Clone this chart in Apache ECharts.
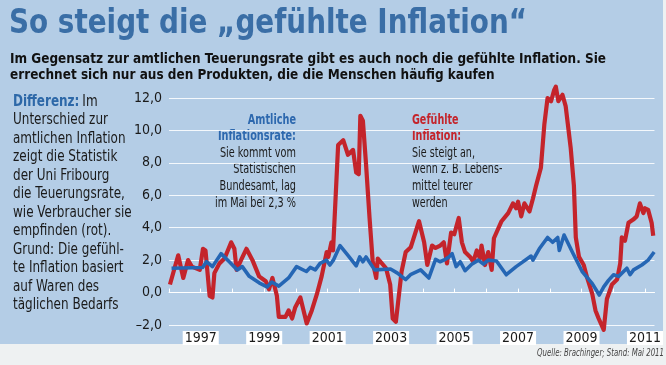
<!DOCTYPE html>
<html><head><meta charset="utf-8">
<script src="https://cdn.jsdelivr.net/npm/echarts@6/dist/echarts.min.js"></script>
<style>html,body{margin:0;padding:0;background:#b4cde6;}#c{width:666px;height:365px;}</style>
</head><body><div id="c"></div>
<script>
const FONT = '"Liberation Sans Narrow","DejaVu Sans Condensed",sans-serif';
// Gefühlte Inflation (red), decimal years
const redYears = [1996.03,1996.29,1996.45,1996.60,1996.72,1996.97,1997.07,1997.15,1997.28,1997.37,1997.43,1997.59,1997.75,1997.96,1998.06,1998.13,1998.27,1998.44,1998.63,1998.84,1999.05,1999.15,1999.26,1999.40,1999.46,1999.67,1999.77,1999.88,1999.98,2000.14,2000.24,2000.34,2000.50,2000.66,2000.81,2000.97,2001.02,2001.12,2001.17,2001.33,2001.49,2001.64,2001.80,2001.90,2001.98,2002.03,2002.11,2002.21,2002.32,2002.42,2002.53,2002.58,2002.84,2002.97,2003.05,2003.15,2003.22,2003.33,2003.46,2003.62,2003.88,2004.04,2004.14,2004.29,2004.40,2004.55,2004.66,2004.76,2004.89,2004.99,2005.13,2005.23,2005.33,2005.49,2005.59,2005.70,2005.80,2005.85,2005.96,2006.06,2006.17,2006.24,2006.48,2006.69,2006.84,2006.94,2007.00,2007.10,2007.20,2007.36,2007.47,2007.57,2007.72,2007.83,2007.93,2008.04,2008.14,2008.19,2008.27,2008.40,2008.50,2008.66,2008.76,2008.82,2008.92,2009.07,2009.18,2009.34,2009.44,2009.54,2009.70,2009.80,2009.96,2010.12,2010.22,2010.27,2010.37,2010.48,2010.63,2010.74,2010.84,2010.95,2011.00,2011.10,2011.21,2011.26];
const redValues = [0.5,2.3,0.9,2.0,1.6,1.4,2.7,2.6,-0.2,-0.3,1.2,1.8,2.1,3.1,2.7,1.4,2.0,2.7,2.0,1.0,0.7,0.2,0.9,-0.2,-1.5,-1.5,-1.1,-1.6,-0.9,-0.3,-1.1,-1.9,-1.1,-0.1,1.0,2.5,2.2,3.1,2.6,9.1,9.4,8.5,8.8,7.4,7.3,10.9,10.6,7.9,4.6,1.9,0.9,2.1,1.5,0.5,-1.6,-1.8,-0.6,1.3,2.5,2.8,4.4,3.1,1.7,2.9,2.75,2.9,3.1,1.8,3.7,3.6,4.6,3.1,2.5,2.2,1.9,2.6,2.1,2.9,1.7,2.5,1.4,3.35,4.4,4.9,5.5,5.2,5.6,4.7,5.5,5.0,5.8,6.6,7.7,10.4,12.0,11.8,12.5,12.7,11.8,12.2,11.5,8.9,6.6,3.4,2.2,1.7,0.9,-0.1,-1.1,-1.6,-2.3,-0.4,0.5,0.8,1.8,3.4,3.2,4.3,4.5,4.7,5.5,4.9,5.2,5.1,4.3,3.5];
// Amtliche Inflationsrate (blue)
const blueYears = [1996.08,1997.06,1997.18,1997.37,1997.64,1997.90,1998.15,1998.31,1998.53,1998.84,1999.09,1999.24,1999.46,1999.77,2000.02,2000.33,2000.45,2000.61,2000.76,2000.96,2001.07,2001.18,2001.39,2001.64,2001.90,2002.01,2002.11,2002.21,2002.48,2002.98,2003.20,2003.46,2003.61,2003.93,2004.19,2004.40,2004.54,2004.71,2004.82,2004.92,2005.05,2005.18,2005.33,2005.54,2005.75,2005.91,2006.06,2006.32,2006.63,2006.94,2007.41,2007.47,2007.67,2007.93,2008.09,2008.25,2008.30,2008.45,2008.71,2009.02,2009.34,2009.56,2009.70,2009.85,2010.01,2010.17,2010.43,2010.53,2010.64,2010.90,2011.10,2011.29];
const blueValues = [1.5,1.55,1.9,1.6,2.4,1.9,1.4,1.6,1.0,0.6,0.35,0.65,0.4,0.9,1.6,1.3,1.55,1.4,1.8,2.0,1.7,2.0,2.9,2.3,1.65,2.2,1.9,2.2,1.4,1.45,1.2,0.8,1.1,1.4,0.9,2.05,1.9,2.05,2.2,2.4,1.6,1.9,1.35,1.75,2.0,1.75,2.0,1.95,1.1,1.6,2.25,2.0,2.7,3.4,3.1,3.4,2.6,3.55,2.5,1.3,0.55,-0.15,0.35,0.75,1.1,1.0,1.5,1.1,1.4,1.7,2.0,2.5];
const yTicks = [-2,0,2,4,6,8,10,12];
const xLabelYears = [1997,1999,2001,2003,2005,2007,2009,2011];

const chart = echarts.init(document.getElementById('c'), null, {renderer:'canvas'});
const pairs = (xs, ys) => xs.map((x,i)=>[x, ys[i]]);
chart.setOption({
  animation:false,
  backgroundColor:'#b4cde6',
  grid:{left:169, top:98, width:490.7, height:227},
  xAxis:{type:'value', min:1996, max:2011.3, interval:1,
    axisLine:{onZero:true, lineStyle:{color:'#ffffff', width:1}},
    axisTick:{inside:true, length:4, lineStyle:{color:'#ffffff', width:1}},
    splitLine:{show:false},
    axisLabel:{margin:6, showMinLabel:true, showMaxLabel:false,
      formatter:v=> xLabelYears.indexOf(Math.round(v))>=0 ? String(Math.round(v)) : '',
      color:'#1a1a1a', fontFamily:FONT, fontSize:14, backgroundColor:'#ffffff', padding:[0,2,0,2], lineHeight:14}
  },
  yAxis:{type:'value', min:-2, max:12, interval:2,
    axisLine:{show:false}, axisTick:{show:false},
    splitLine:{lineStyle:{color:'#ffffff', width:1, opacity:0.85}},
    axisLabel:{margin:7, color:'#1a1a1a', fontFamily:FONT, fontSize:14,
      formatter:v=> yTicks.indexOf(v)>=0 ? (v<0?'–':'') + Math.abs(v).toFixed(1).replace('.',',') : ''}
  },
  series:[
    {type:'line', data:pairs(redYears, redValues), showSymbol:false, z:3, clip:false,
      lineStyle:{color:'#c4242b', width:4.2, join:'round'}},
    {type:'line', data:pairs(blueYears, blueValues), showSymbol:false, z:4, clip:false,
      lineStyle:{color:'#2566b4', width:3.6, join:'round'}}
  ],
  graphic:[
    {type:'rect', left:0, top:344, shape:{width:666, height:21}, style:{fill:'#eef1f2'}, z:-1},
    {type:'rect', left:663, top:0, shape:{width:3, height:365}, style:{fill:'#eef1f2'}, z:-1},
    {type:'text', x:9, y:24, scaleX:0.91, style:{text:'So steigt die „gefühlte Inflation“', font:'bold 34px '+FONT, fill:'#3a6ea6', verticalAlign:'middle'}},
    {type:'text', x:10, y:51, scaleX:0.96, style:{text:'Im Gegensatz zur amtlichen Teuerungsrate gibt es auch noch die gefühlte Inflation. Sie\nerrechnet sich nur aus den Produkten, die die Menschen häufig kaufen', font:'bold 14px '+FONT, fill:'#111111', lineHeight:16, verticalAlign:'top'}},
    {type:'text', x:13, y:92.5, scaleX:0.89, style:{
      text:'{b|Differenz:} {n|Im}\n{n|Unterschied zur}\n{n|amtlichen Inflation}\n{n|zeigt die Statistik}\n{n|der Uni Fribourg}\n{n|die Teuerungsrate,}\n{n|wie Verbraucher sie}\n{n|empfinden (rot).}\n{n|Grund: Die gefühl-}\n{n|te Inflation basiert}\n{n|auf Waren des}\n{n|täglichen Bedarfs}',
      verticalAlign:'top',
      rich:{b:{font:'bold 15px '+FONT, fill:'#2d68a8', lineHeight:18.5}, n:{font:'15px '+FONT, fill:'#1a1a1a', lineHeight:18.5}}}},
    {type:'text', x:296, y:111.7, scaleX:0.8, style:{
      text:'{b|Amtliche}\n{b|Inflationsrate:}\n{n|Sie kommt vom}\n{n|Statistischen}\n{n|Bundesamt, lag}\n{n|im Mai bei 2,3 %}',
      align:'right', verticalAlign:'top',
      rich:{b:{font:'bold 13.5px '+FONT, fill:'#2d68ae', lineHeight:16.6, align:'right'}, n:{font:'13.5px '+FONT, fill:'#1a1a1a', lineHeight:16.6, align:'right'}}}},
    {type:'text', x:412, y:111.7, scaleX:0.79, style:{
      text:'{b|Gefühlte}\n{b|Inflation:}\n{n|Sie steigt an,}\n{n|wenn z. B. Lebens-}\n{n|mittel teurer}\n{n|werden}',
      align:'left', verticalAlign:'top',
      rich:{b:{font:'bold 13.5px '+FONT, fill:'#c4242b', lineHeight:16.6}, n:{font:'13.5px '+FONT, fill:'#1a1a1a', lineHeight:16.6}}}},
    {type:'text', x:664, y:353, scaleX:0.74, style:{text:'Quelle: Brachinger; Stand: Mai 2011', font:'italic 10.5px '+FONT, fill:'#444444', align:'right', verticalAlign:'middle'}}
  ]
});
</script></body></html>
